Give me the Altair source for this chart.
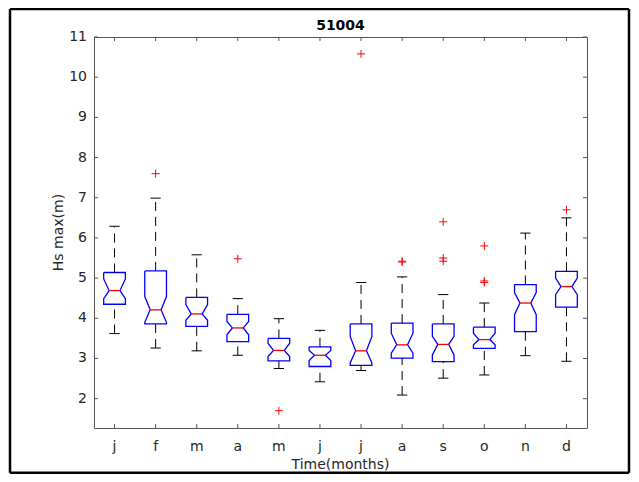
import altair as alt
import pandas as pd

# ---------------- data ----------------
months = ["j", "f", "m", "a", "m", "j", "j", "a", "s", "o", "n", "d"]
upper_whisker = [6.29, 6.99, 5.58, 4.49, 3.99, 3.70, 4.89, 5.03, 4.59, 4.38, 6.12, 6.50]
q3 = [5.14, 5.18, 4.52, 4.10, 3.50, 3.29, 3.86, 3.88, 3.86, 3.78, 4.84, 5.17]
notch_hi = [4.98, 4.54, 4.34, 3.92, 3.38, 3.20, 3.55, 3.63, 3.55, 3.63, 4.64, 5.00]
median = [4.69, 4.21, 4.11, 3.76, 3.20, 3.08, 3.19, 3.34, 3.35, 3.47, 4.38, 4.79]
notch_lo = [4.49, 3.90, 3.95, 3.59, 3.05, 2.95, 2.89, 3.13, 3.09, 3.34, 4.09, 4.59]
q1 = [4.35, 3.86, 3.80, 3.42, 2.94, 2.80, 2.83, 3.01, 2.92, 3.25, 3.67, 4.28]
lower_whisker = [3.62, 3.26, 3.19, 3.08, 2.75, 2.42, 2.70, 2.09, 2.51, 2.59, 3.07, 2.93]

outlier_pos = [2, 4, 5, 7, 8, 8, 9, 9, 9, 10, 10, 10, 12]
outlier_val = [7.60, 5.48, 1.70, 10.58, 5.40, 5.42, 6.40, 5.50, 5.42, 5.80, 4.93, 4.89, 6.70]

y_ticks = [2, 3, 4, 5, 6, 7, 8, 9, 10, 11]
chart_title = "51004"
x_title = "Time(months)"
y_title = "Hs max(m)"

# ---------------- styling / geometry ----------------
W, H = 493, 391
BOX_HW = 0.264     # half box width in x units
CAP_HW = 0.125     # half whisker cap width
FONT = "DejaVu Sans"
AX = "#555555"
TXT = "#262626"

pos = list(range(1, len(months) + 1))
stats = pd.DataFrame(dict(pos=pos, month=months, uw=upper_whisker, q3=q3,
                          nhi=notch_hi, med=median, nlo=notch_lo, q1=q1,
                          lw=lower_whisker))
stats["cap_l"] = stats["pos"] - CAP_HW
stats["cap_r"] = stats["pos"] + CAP_HW
stats["med_l"] = stats["pos"] - BOX_HW / 2
stats["med_r"] = stats["pos"] + BOX_HW / 2

rows = []
for _, r in stats.iterrows():
    p = r["pos"]
    verts = [
        (p - BOX_HW, r["q3"]), (p - BOX_HW, r["nhi"]), (p - BOX_HW / 2, r["med"]),
        (p - BOX_HW, r["nlo"]), (p - BOX_HW, r["q1"]), (p + BOX_HW, r["q1"]),
        (p + BOX_HW, r["nlo"]), (p + BOX_HW / 2, r["med"]), (p + BOX_HW, r["nhi"]),
        (p + BOX_HW, r["q3"]), (p - BOX_HW, r["q3"]),
    ]
    for k, (vx, vy) in enumerate(verts):
        rows.append(dict(pos=p, k=k, bx=vx, by=vy))
box_df = pd.DataFrame(rows)

out_df = pd.DataFrame(dict(pos=outlier_pos, val=outlier_val))
xt_df = pd.DataFrame(dict(pos=pos, lab=months))
yt_df = pd.DataFrame(dict(v=y_ticks, lab=[str(v) for v in y_ticks]))
one = pd.DataFrame({"t": [chart_title], "xt": [x_title], "yt": [y_title]})

xs = alt.Scale(domain=[0.5, 12.5], nice=False, zero=False)
ys = alt.Scale(domain=[1.27, 11], nice=False, zero=False)


def X(f):
    return alt.X(f, scale=xs, axis=None)


def Y(f):
    return alt.Y(f, scale=ys, axis=None)


boxes = alt.Chart(box_df).mark_line(color="#0000ff", strokeWidth=1.3).encode(
    x=X("bx:Q"), y=Y("by:Q"), order="k:Q", detail="pos:N",
)
whisk_up = alt.Chart(stats).mark_rule(color="black", strokeWidth=1, strokeDash=[9, 6]).encode(
    x=X("pos:Q"), y=Y("q3:Q"), y2="uw:Q")
whisk_dn = alt.Chart(stats).mark_rule(color="black", strokeWidth=1, strokeDash=[9, 6]).encode(
    x=X("pos:Q"), y=Y("lw:Q"), y2="q1:Q")
cap_up = alt.Chart(stats).mark_rule(color="black", strokeWidth=1).encode(
    x=X("cap_l:Q"), x2="cap_r:Q", y=Y("uw:Q"))
cap_dn = alt.Chart(stats).mark_rule(color="black", strokeWidth=1).encode(
    x=X("cap_l:Q"), x2="cap_r:Q", y=Y("lw:Q"))
med_line = alt.Chart(stats).mark_rule(color="#ff0000", strokeWidth=1.3).encode(
    x=X("med_l:Q"), x2="med_r:Q", y=Y("med:Q"))
outliers = alt.Chart(out_df).mark_point(
    shape="M-1,0L1,0M0,-1L0,1", size=64, color="#ff0000", filled=False,
    strokeWidth=1, opacity=1
).encode(x=X("pos:Q"), y=Y("val:Q"))

# inward ticks on all four sides
tick_b = alt.Chart(xt_df).mark_rule(color=AX, strokeWidth=1).encode(
    x=X("pos:Q"), y=alt.value(H), y2=alt.value(H - 4))
tick_t = alt.Chart(xt_df).mark_rule(color=AX, strokeWidth=1).encode(
    x=X("pos:Q"), y=alt.value(0), y2=alt.value(4))
tick_l = alt.Chart(yt_df).mark_rule(color=AX, strokeWidth=1).encode(
    y=Y("v:Q"), x=alt.value(0), x2=alt.value(4))
tick_r = alt.Chart(yt_df).mark_rule(color=AX, strokeWidth=1).encode(
    y=Y("v:Q"), x=alt.value(W), x2=alt.value(W - 4))

# tick labels
xlab = alt.Chart(xt_df).mark_text(
    font=FONT, fontSize=14, color=TXT, baseline="alphabetic", align="center"
).encode(x=X("pos:Q"), y=alt.value(H + 22.5), text="lab:N")
ylab = alt.Chart(yt_df).mark_text(
    font=FONT, fontSize=14, color=TXT, baseline="middle", align="right"
).encode(y=Y("v:Q"), x=alt.value(-7), text="lab:N")

# titles
title_mark = alt.Chart(one).mark_text(
    font=FONT, fontSize=14, fontWeight="bold", color="black", baseline="alphabetic",
    align="center"
).encode(text="t:N", x=alt.value(W / 2), y=alt.value(-7.5))
xtitle_mark = alt.Chart(one).mark_text(
    font=FONT, fontSize=14, color=TXT, baseline="alphabetic", align="center"
).encode(text="xt:N", x=alt.value(W / 2), y=alt.value(H + 40.5))
ytitle_mark = alt.Chart(one).mark_text(
    font=FONT, fontSize=14, color=TXT, baseline="alphabetic", align="center", angle=270
).encode(text="yt:N", x=alt.value(-31), y=alt.value(H / 2))

# outer figure frame (four rules)
FL, FR, FT, FB = -84, 535, -28, 435.8
frame_style = dict(color="black", strokeWidth=2.5)
fr_top = alt.Chart(one).mark_rule(**frame_style).encode(
    x=alt.value(FL), x2=alt.value(FR), y=alt.value(FT))
fr_bot = alt.Chart(one).mark_rule(**frame_style).encode(
    x=alt.value(FL), x2=alt.value(FR), y=alt.value(FB))
fr_left = alt.Chart(one).mark_rule(**frame_style).encode(
    x=alt.value(FL), y=alt.value(FT), y2=alt.value(FB))
fr_right = alt.Chart(one).mark_rule(**frame_style).encode(
    x=alt.value(FR), y=alt.value(FT), y2=alt.value(FB))

chart = alt.layer(
    boxes, whisk_up, whisk_dn, cap_up, cap_dn, med_line, outliers,
    tick_b, tick_t, tick_l, tick_r, xlab, ylab,
    title_mark, xtitle_mark, ytitle_mark,
    fr_top, fr_bot, fr_left, fr_right
).properties(
    width=W, height=H,
    background="white",
    autosize=alt.AutoSizeParams(type="none"),
    padding={"left": 86, "top": 29, "right": 44, "bottom": 46},
).configure_view(
    stroke=AX, strokeWidth=1
)

chart.save("out.html", embed_options={"renderer": "svg", "actions": False})
